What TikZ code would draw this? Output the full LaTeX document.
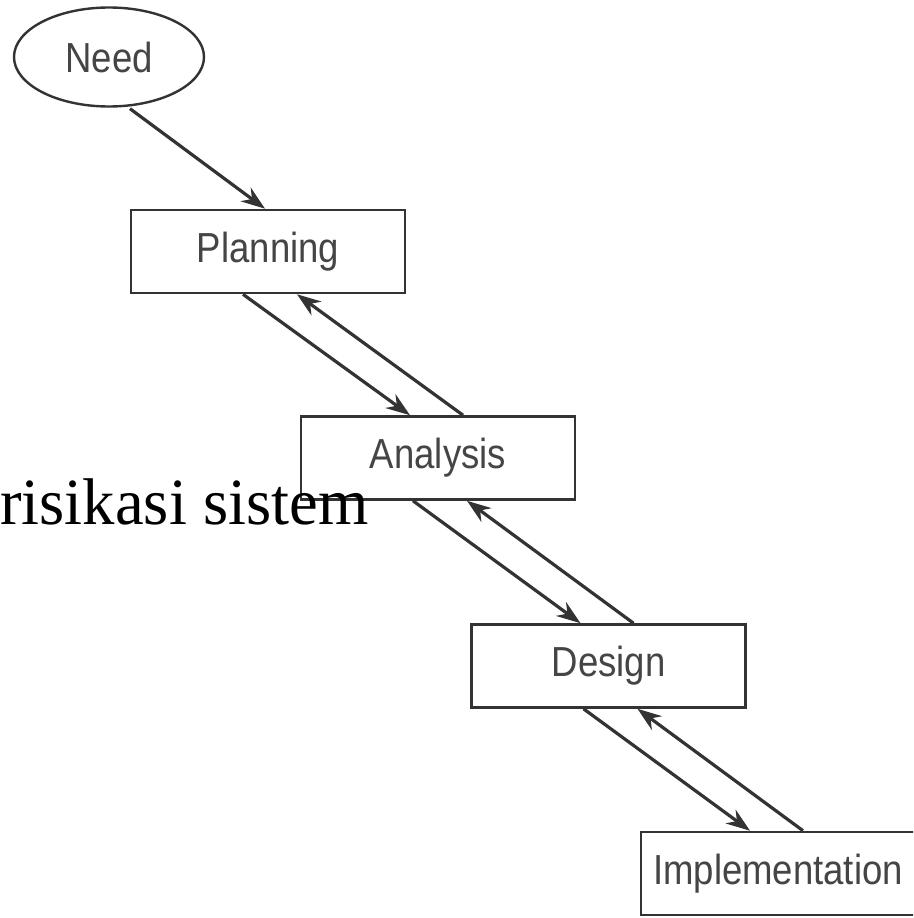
\documentclass[tikz,border=0pt]{standalone}
\usepackage{fontspec}
\usetikzlibrary{shapes.geometric,arrows.meta}
\setmainfont{Liberation Serif}
\newfontfamily\boxfont[FakeStretch=0.87]{Liberation Sans}
\definecolor{ink}{HTML}{333333}
\definecolor{label}{HTML}{454545}
\tikzset{
  stagebox/.style={draw=ink, line width=2.6pt, fill=white, minimum width=274pt,
    minimum height=83pt, inner sep=0pt, font=\boxfont\fontsize{42}{48}\selectfont, text=label},
  startoval/.style={ellipse, draw=ink, line width=2.4pt, minimum width=190pt,
    minimum height=99pt, inner sep=0pt, font=\boxfont\fontsize{42}{48}\selectfont, text=label},
  flow/.style={draw=ink, line width=3.2pt, -{Stealth[length=24pt,width=17pt]}}
}
\begin{document}
\begin{tikzpicture}[x=1pt,y=-1pt]
\useasboundingbox (0,0) rectangle (913,918);
\clip (0,0) rectangle (913,918);
\fill[white] (0,0) rectangle (913,918);

% stages of the process
\node[startoval] (need) at (109,57) {Need};
\node[stagebox] (plan) at (268,251.5) {Planning};
\node[stagebox] (anal) at (438,458) {Analysis};
\node[stagebox] (desi) at (608.5,666) {Design};
\node[stagebox] (impl) at (778,873.5) {Implementation};

% forward and feedback arrows
\draw[flow] ([xshift=21pt,yshift=-1pt]need.south) -- ([xshift=-3pt]plan.north);
\draw[flow] ([xshift=-25pt]plan.south) -- ([xshift=-28pt]anal.north);
\draw[flow] ([xshift=25pt]anal.north) -- ([xshift=29pt]plan.south);
\draw[flow] ([xshift=-25pt]anal.south) -- ([xshift=-28pt]desi.north);
\draw[flow] ([xshift=25pt]desi.north) -- ([xshift=29pt]anal.south);
\draw[flow] ([xshift=-25pt]desi.south) -- ([xshift=-28pt]impl.north);
\draw[flow] ([xshift=25pt]impl.north) -- ([xshift=29pt]desi.south);

% caption text on the left
\node[anchor=base west, inner sep=0pt, text=black,
  font=\addfontfeatures{FakeStretch=0.98}\fontsize{66}{74}\selectfont] (cap) at (0,524) {risikasi sistem};
\end{tikzpicture}
\end{document}
